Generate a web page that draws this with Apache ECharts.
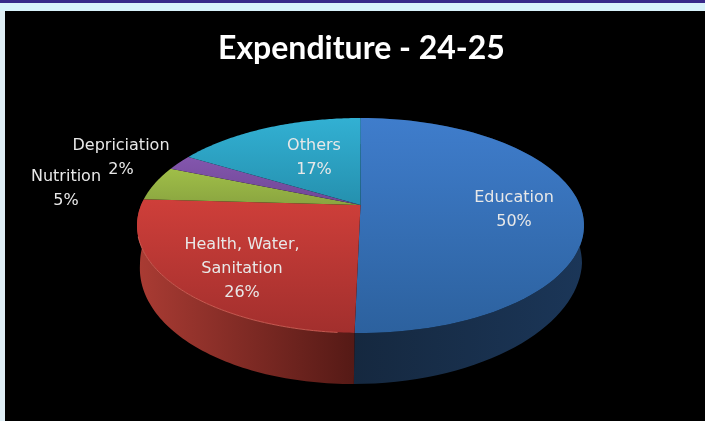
<!DOCTYPE html>
<html>

<head>
  <meta charset="utf-8">
  <style>
    html, body {
      margin: 0;
      padding: 0;
      background: #000;
    }
  </style>
</head>

<body>
  <div id="main" style="width: 705px; height: 421px"></div>
</body>

<script src="https://cdn.jsdelivr.net/npm/echarts@6/dist/echarts.min.js"></script>
<script>
  var categories = ['Education', 'Health, Water,\nSanitation', 'Nutrition', 'Depriciation', 'Others'];
  var values = [50.4, 25.6, 5.2, 2.4, 16.5];
  var shownPercent = ['50%', '26%', '5%', '2%', '17%'];

  // look of each slice, same order as categories
  var topColors = [
    ['#3f7dcc', '#2c619e'],
    ['#cf3f3a', '#a22f2d'],
    ['#a2c149', '#8aa540'],
    ['#8457ae', '#6f4695'],
    ['#32b0d3', '#2590ae']
  ];
  var topSpans = [[118, 333], [197, 333], [165, 205], [155, 205], [118, 205]];
  var sideColors = [
    ['#15283f', '#1b3658'],
    ['#a93b33', '#561a16'],
    null, null, null
  ];
  var labelSpots = [[514, 210], [242, 269], [66, 189], [121, 158], [314, 158]];

  // top ellipse and the lower rim, the apex sits above the ellipse middle (perspective)
  var topEllipse = { cx: 360.5, cy: 225.5, rx: 223.5, ry: 107.5 };
  var lowEllipse = { cx: 361, cy: 264, rx: 221, ry: 120 };
  var tilt = 0.19;
  var lowTurn = 0.004;
  var lowSkew = 8;

  function rimPoint(e, frac) {
    var a = frac * Math.PI * 2;
    var x = Math.sin(a), y = Math.cos(a);
    var d = 1 + tilt * y;
    return [
      e.cx + e.rx * x * Math.sqrt(1 - tilt * tilt) / d,
      e.cy - e.ry * (y + tilt) / d
    ];
  }

  // the lower rim leans a little to the left towards the bottom
  function lowPoint(frac) {
    var p = rimPoint(lowEllipse, frac - lowTurn);
    if (p[1] > lowEllipse.cy) {
      p[0] -= lowSkew * (p[1] - lowEllipse.cy) / lowEllipse.ry;
    }
    return p;
  }

  var total = values.reduce(function(a, b) { return a + b; }, 0);
  var starts = [];
  values.reduce(function(sum, v, i) {
    starts[i] = sum / total;
    return sum + v;
  }, 0);

  function arc(pointAt, from, to) {
    var pts = [];
    for (var i = 0; i <= 80; i++) {
      pts.push(pointAt(from + (to - from) * i / 80));
    }
    return pts;
  }

  function topPoint(frac) {
    return rimPoint(topEllipse, frac);
  }

  function grad(x0, y0, x1, y1, stops) {
    return new echarts.graphic.LinearGradient(x0, y0, x1, y1, [
      { offset: 0, color: stops[0] },
      { offset: 1, color: stops[1] }
    ], true);
  }

  function renderSide(params, api) {
    var i = api.value(0);
    if (!sideColors[i]) return null;
    var from = starts[i], to = from + api.value(1) / total;
    var pts = arc(topPoint, from, to).concat(arc(lowPoint, from, to).reverse());
    var xs = i === 0 ? [352, 584] : [140, 352];
    return {
      type: 'polygon',
      shape: { points: pts },
      style: { fill: grad(xs[0], 0, xs[1], 0, sideColors[i]) }
    };
  }

  function renderTop(params, api) {
    var i = api.value(0);
    var from = starts[i], to = from + api.value(1) / total;
    var apex = [topEllipse.cx, topEllipse.cy - topEllipse.ry * tilt];
    var children = [{
      type: 'polygon',
      shape: { points: [apex].concat(arc(topPoint, from, to)) },
      style: { fill: grad(0, topSpans[i][0], 0, topSpans[i][1], topColors[i]) }
    }];
    if (i === 1) {
      // thin light edge on the front of the red slice
      children.push({
        type: 'polyline',
        shape: { points: arc(topPoint, from + 0.01, from + 0.2) },
        style: { fill: null, stroke: '#d9665c', lineWidth: 1, opacity: 0.8 }
      });
    }
    children.push({
      type: 'text',
      x: labelSpots[i][0],
      y: labelSpots[i][1],
      z2: 10,
      style: {
        text: categories[i] + '\n' + shownPercent[i],
        fill: '#e8e8e8',
        font: '16px "DejaVu Sans"',
        lineHeight: 24,
        align: 'center',
        verticalAlign: 'middle'
      }
    });
    return { type: 'group', children: children };
  }

  var rows = values.map(function(v, i) { return [i, v]; });

  var myChart = echarts.init(document.getElementById('main'));
  myChart.setOption({
    animation: false,
    backgroundColor: '#000',
    title: {
      text: 'Expenditure - 24-25',
      left: 213,
      top: 28,
      textStyle: {
        color: '#fff',
        fontFamily: 'Lato',
        fontWeight: 'bold',
        fontSize: 32
      }
    },
    graphic: [
      { type: 'rect', z: 5, shape: { x: 0, y: 0, width: 705, height: 3 }, style: { fill: '#38298a' } },
      { type: 'rect', z: 5, shape: { x: 0, y: 3, width: 705, height: 8 }, style: { fill: '#d8f2fb' } },
      { type: 'rect', z: 5, shape: { x: 0, y: 11, width: 5, height: 410 }, style: { fill: '#dfeef5' } }
    ],
    series: [
      { type: 'custom', coordinateSystem: 'none', z: 1, renderItem: renderSide, data: rows },
      { type: 'custom', coordinateSystem: 'none', z: 2, renderItem: renderTop, data: rows }
    ]
  });
</script>
</html>
